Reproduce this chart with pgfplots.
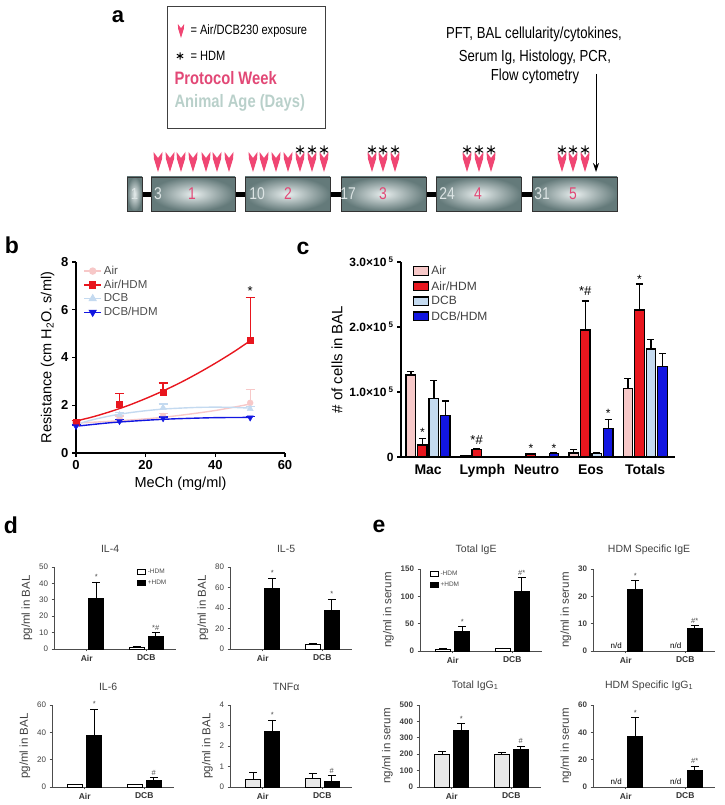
\documentclass[border=0pt]{standalone}
\usepackage{graphicx}
\usepackage{pgfplots}
\pgfplotsset{compat=1.18}
\usepackage{fontspec}
\setmainfont{Liberation Sans}
\usetikzlibrary{arrows.meta}
\definecolor{airpink}{RGB}{247,200,200}
\definecolor{hdmred}{RGB}{232,22,30}
\definecolor{dcbblue}{RGB}{196,218,240}
\definecolor{dcbhdm}{RGB}{18,22,225}
\definecolor{arrowpink}{RGB}{240,70,115}
\definecolor{weekpink}{RGB}{226,72,118}
\definecolor{agegray}{RGB}{185,208,202}
\definecolor{boxedge}{RGB}{100,122,122}
\definecolor{boxmid}{RGB}{232,238,238}
\definecolor{daygray}{RGB}{220,228,228}
\definecolor{ltgray}{RGB}{232,232,232}
\newcommand{\fs}[1]{\fontsize{#1}{#1}\selectfont}
\newcommand{\nar}[1]{\scalebox{0.82}[1]{#1}}
\newcommand{\bstar}[3]{\node[font=\fs{7.5}, text=black!70, anchor=south, inner sep=0.5pt, yshift=1.5pt] at (axis cs:#1,#2) {#3};}
\newcommand{\nd}[1]{\node[font=\fs{8}, anchor=south, inner sep=0.5pt, yshift=1.5pt] at (axis cs:#1,0) {n/d};}
\tikzset{parrow/.pic={\fill[arrowpink] (-4.5,0) -- (0,-6) -- (4.5,0) -- (4,-7) -- (0,-20) -- (-4,-7) -- cycle;},
  hstar/.pic={\draw[line width=1.0pt, black] (0,-4.5) -- (0,4.5) (-3.9,-2.25) -- (3.9,2.25) (-3.9,2.25) -- (3.9,-2.25);}}
\pgfplotsset{
  smallax/.style={anchor=south west, scale only axis, width=122pt, height=82pt,
    xmin=-0.55, xmax=1.5, ymin=0,
    axis x line*=bottom, axis y line*=left,
    axis line style={-, line width=0.7pt, black!70},
    xtick={0,1}, xticklabels={Air,DCB},
    xticklabel style={font=\bfseries\fs{8.5}, text=black!80},
    yticklabel style={font=\fs{8}, text=black!75},
    /pgf/number format/assume math mode=true,
    tick style={line width=0.6pt, black!70}, tick align=outside, major tick length=2.5pt,
    ylabel style={font=\fs{11.5}, text=black!75},
    title style={font=\fs{10.5}, text=black!75, at={(0.46,1)}, anchor=south, yshift=5pt},
    clip=false, scaled y ticks=false},
  errb/.style={error bars/y dir=plus, error bars/y explicit,
    error bars/error bar style={line width=0.8pt, black},
    error bars/error mark options={rotate=90, mark size=4pt, line width=0.8pt, black}},
  sw/.style={ybar, bar width=15pt, bar shift=0pt, fill=white, draw=black, line width=0.9pt, forget plot, errb},
  sb/.style={ybar, bar width=15pt, bar shift=0pt, fill=black, draw=black, line width=0.9pt, forget plot, errb},
  cerr/.style={error bars/y dir=plus, error bars/y explicit,
    error bars/error bar style={line width=1.3pt, black},
    error bars/error mark options={rotate=90, mark size=3.5pt, line width=1.3pt, black}},
  cbar/.style={ybar, bar width=9.5pt, bar shift=0pt, draw=black, line width=1.3pt, forget plot, cerr},
  berr/.style={error bars/y dir=plus, error bars/y explicit,
    error bars/error bar style={line width=1.3pt},
    error bars/error mark options={rotate=90, mark size=4.5pt, line width=1.3pt}},
}
\begin{document}
\begin{tikzpicture}[x=1pt,y=1pt]
% ---------------- panel a ----------------
\node[font=\bfseries\fs{22}] at (118,788) {a};
\draw[line width=0.9pt, black!75] (167,799) rectangle (325,677);
\pic[scale=0.7] at (181,781) {parrow};
\node[anchor=west, font=\fs{13.5}] at (187,774) {\nar{= Air/DCB230 exposure}};
\pic[scale=0.8] at (180,749) {hstar};
\node[anchor=west, font=\fs{13.5}] at (187,749) {\nar{= HDM}};
\node[anchor=west, font=\bfseries\fs{18}, text=weekpink] at (171,727) {\nar{Protocol Week}};
\node[anchor=west, font=\bfseries\fs{18}, text=agegray] at (171,702) {\nar{Animal Age (Days)}};
\node[font=\fs{16}] at (534,771) {\nar{PFT, BAL cellularity/cytokines,}};
\node[font=\fs{16}] at (535,748) {\nar{Serum Ig, Histology, PCR,}};
\node[font=\fs{16}] at (535,729) {\nar{Flow cytometry}};
\draw[line width=0.9pt, -{Stealth[length=9pt,width=6pt]}] (596,731) -- (596,633);
% connectors
\draw[line width=5pt] (140,610) -- (534,610);
% boxes
\foreach \xa/\xb in {127/142,151/235,245/330,341/426,436/521,532/617}{
  \shade[inner color=boxmid, outer color=boxedge] (\xa,594) rectangle (\xb,628);
  \draw[black!80, line width=0.6pt] (\xa,594) rectangle (\xb,628);
}
\node[font=\fs{16}, text=daygray] at (134.5,611) {\nar{1}};
\foreach \x/\d in {158/3,257/10,348/17,447/24,542/31}{
  \node[font=\fs{17}, text=daygray] at (\x,611) {\nar{\d}};
}
\foreach \x/\w in {192/1,288/2,383/3,478/4,573/5}{
  \node[font=\fs{17}, text=weekpink] at (\x,611) {\nar{\w}};
}
\foreach \x in {158,170,181,193,206,217,229,253,264,276,288,300,312,324,372,383,395,467,479,491,562,573,585}{
  \pic at (\x,653) {parrow};
}
\foreach \x in {300,312,324,372,383,395,467,479,491,562,573,585}{
  \pic at (\x,655) {hstar};
}
% ---------------- panel b ----------------
\node[font=\bfseries\fs{23}] at (12,560) {b};
\begin{axis}[at={(76pt,352pt)}, anchor=south west, scale only axis, width=209pt, height=191pt,
  xmin=0, xmax=60, ymin=0, ymax=8,
  axis lines=left, axis line style={-, line width=1.4pt},
  xtick={0,20,40,60}, ytick={0,2,4,6,8},
  tick style={line width=1.4pt, black}, tick align=outside, major tick length=4pt,
  /pgf/number format/assume math mode=true,
  ticklabel style={font=\bfseries\fs{13}},
  xlabel={MeCh (mg/ml)}, ylabel={Resistance (cm H\textsubscript{2}O. s/ml)},
  label style={font=\fs{14.5}},
  clip=false,
  legend style={at={(0.03,0.995)}, anchor=north west, draw=none, fill=none, font=\fs{11.5}, text=black!70, row sep=0pt, inner sep=1pt},
  legend cell align=left]
\addplot[smooth, airpink, line width=1.4pt, forget plot] coordinates {(0,1.25)(10,1.33)(20,1.43)(25,1.5)(30,1.58)(40,1.78)(50,2.05)};
\addplot[smooth, dcbblue, line width=1.4pt, forget plot] coordinates {(0,1.2)(5,1.4)(10,1.56)(15,1.68)(20,1.77)(25,1.84)(30,1.88)(35,1.91)(40,1.92)(45,1.91)(50,1.88)};
\addplot[only marks, airpink, mark=*, mark size=3pt, forget plot, berr] coordinates {(0,1.25)+-(0,0.05) (12.5,1.45)+-(0,0.1) (25,1.55)+-(0,0.1) (50,2.1)+-(0,0.55)};
\addplot[only marks, dcbblue, mark=triangle*, mark size=3.5pt, forget plot, berr] coordinates {(0,1.2)+-(0,0.05) (12.5,1.6)+-(0,0.1) (25,1.9)+-(0,0.15) (50,1.85)+-(0,0.1)};
\addplot[smooth, hdmred, line width=1.4pt, forget plot] coordinates {(0,1.34)(5,1.52)(10,1.74)(15,1.99)(20,2.28)(25,2.6)(30,2.95)(35,3.34)(40,3.76)(45,4.21)(50,4.7)};
\addplot[only marks, hdmred, mark=square*, mark size=3pt, forget plot, berr] coordinates {(0,1.3)+-(0,0.05) (12.5,2.05)+-(0,0.45) (25,2.55)+-(0,0.38) (50,4.72)+-(0,1.8)};
\addplot[smooth, dcbhdm, line width=1.4pt, forget plot] coordinates {(0,1.12)(10,1.27)(20,1.37)(25,1.41)(30,1.44)(40,1.48)(50,1.49)};
\addplot[only marks, dcbhdm, mark=triangle*, mark options={rotate=180}, mark size=3.5pt, forget plot, berr] coordinates {(0,1.12)+-(0,0.05) (12.5,1.33)+-(0,0.08) (25,1.45)+-(0,0.06) (50,1.48)+-(0,0.06)};
\addlegendimage{airpink, line width=1.4pt, mark=*, mark size=3pt}
\addlegendentry{Air}
\addlegendimage{hdmred, line width=1.4pt, mark=square*, mark size=3pt}
\addlegendentry{Air/HDM}
\addlegendimage{dcbblue, line width=1.4pt, mark=triangle*, mark size=3.5pt}
\addlegendentry{DCB}
\addlegendimage{dcbhdm, line width=1.4pt, mark=triangle*, mark options={rotate=180}, mark size=3.5pt}
\addlegendentry{DCB/HDM}
\node[font=\fs{13}, anchor=south, inner sep=0pt] at (axis cs:50,6.6) {*};
\end{axis}
% ---------------- panel c ----------------
\node[font=\bfseries\fs{23}] at (303,557) {c};
\begin{axis}[at={(401pt,348pt)}, anchor=south west, scale only axis, width=274pt, height=195pt,
  xmin=-0.5, xmax=4.55, ymin=0, ymax=300000,
  axis lines=left, axis line style={-, line width=1.4pt},
  xtick={0,1,2,3,4}, xticklabels={Mac,Lymph,Neutro,Eos,Totals},
  xtick style={draw=none},
  xticklabel style={font=\bfseries\fs{14}},
  ytick={0,100000,200000,300000},
  yticklabels={0,{1.0×10\,\textsuperscript{5}},{2.0×10\,\textsuperscript{5}},{3.0×10\,\textsuperscript{5}}},
  yticklabel style={font=\bfseries\fs{12}},
  ytick style={line width=1.4pt, black}, tick align=outside, major tick length=4pt,
  scaled y ticks=false,
  ylabel={\# of cells in BAL}, ylabel style={font=\fs{15}},
  clip=false,
  legend style={at={(0.04,0.995)}, anchor=north west, draw=none, fill=none, font=\fs{12}, text=black!75, row sep=1pt, inner sep=1pt},
  legend cell align=left,
  legend image code/.code={\draw[#1] (0pt,-4pt) rectangle (15pt,4.5pt);}]
\addplot[cbar, fill=airpink]
  coordinates {(-0.318,126000)+-(0,5000) (0.682,1500)+-(0,500) (1.682,500)+-(0,200) (2.682,6000)+-(0,6000) (3.682,105500)+-(0,15500)};
\addplot[cbar, fill=hdmred]
  coordinates {(-0.106,18500)+-(0,9500) (0.894,12000)+-(0,1500) (1.894,4500)+-(0,1000) (2.894,195500)+-(0,44500) (3.894,226000)+-(0,40000)};
\addplot[cbar, fill=dcbblue]
  coordinates {(0.106,90000)+-(0,28000) (1.106,800)+-(0,300) (2.106,800)+-(0,300) (3.106,5000)+-(0,1000) (4.106,166000)+-(0,15000)};
\addplot[cbar, fill=dcbhdm]
  coordinates {(0.318,64000)+-(0,22000) (1.318,800)+-(0,300) (2.318,5000)+-(0,1000) (3.318,44000)+-(0,14000) (4.318,139000)+-(0,20000)};
\addlegendimage{fill=airpink, draw=black, line width=1.3pt}
\addlegendentry{Air}
\addlegendimage{fill=hdmred, draw=black, line width=1.3pt}
\addlegendentry{Air/HDM}
\addlegendimage{fill=dcbblue, draw=black, line width=1.3pt}
\addlegendentry{DCB}
\addlegendimage{fill=dcbhdm, draw=black, line width=1.3pt}
\addlegendentry{DCB/HDM}
\node[font=\fs{12}, anchor=base, inner sep=0pt] at (axis cs:-0.106,31800) {*};
\node[font=\fs{13}, anchor=base, inner sep=0pt] at (axis cs:0.894,19500) {*\#};
\node[font=\fs{12}, anchor=base, inner sep=0pt] at (axis cs:1.894,7600) {*};
\node[font=\fs{12}, anchor=base, inner sep=0pt] at (axis cs:2.318,7600) {*};
\node[font=\fs{13}, anchor=base, inner sep=0pt] at (axis cs:2.894,249000) {*\#};
\node[font=\fs{12}, anchor=base, inner sep=0pt] at (axis cs:3.318,61500) {*};
\node[font=\fs{12}, anchor=base, inner sep=0pt] at (axis cs:3.894,266500) {*};
\end{axis}
% ---------------- panel d ----------------
\node[font=\bfseries\fs{23}] at (11,280) {d};
\begin{axis}[smallax, at={(54pt,156pt)}, ymax=50, ytick={0,10,...,50}, title={IL-4}, ylabel={pg/ml in BAL},
  legend style={at={(0.68,1.0)}, anchor=north west, draw=none, fill=none, font=\fs{6.5}, text=black!70, row sep=0.5pt, inner sep=0pt},
  legend cell align=left,
  legend image code/.code={\draw[#1] (0pt,-2.3pt) rectangle (8pt,2.5pt);}]
\addplot[sw] coordinates {(0.84,1.2)+-(0,0.3)};
\addplot[sb] coordinates {(0.16,30.8)+-(0,10.1) (1.16,7.9)+-(0,2.0)};
\addlegendimage{fill=white, draw=black, line width=0.6pt}
\addlegendentry{-HDM}
\addlegendimage{fill=black, draw=black, line width=0.6pt}
\addlegendentry{+HDM}
\bstar{0.16}{40.9}{*}
\bstar{1.16}{9.9}{*\#}
\end{axis}
\begin{axis}[smallax, at={(230pt,156pt)}, ymax=80, ytick={0,20,...,80}, title={IL-5}, ylabel={pg/ml in BAL}]
\addplot[sw] coordinates {(0.84,4.6)+-(0,0.8)};
\addplot[sb] coordinates {(0.16,59.4)+-(0,9.8) (1.16,37.2)+-(0,11.4)};
\bstar{0.16}{69.2}{*}
\bstar{1.16}{48.6}{*}
\end{axis}
\begin{axis}[smallax, at={(52pt,18pt)}, ymax=60, ytick={0,20,...,60}, title={IL-6}, ylabel={pg/ml in BAL}]
\addplot[sw] coordinates {(-0.16,1.7)+-(0,0.3) (0.84,1.7)+-(0,0.4)};
\addplot[sb] coordinates {(0.16,37.9)+-(0,19.1) (1.16,5.0)+-(0,1.7)};
\bstar{0.16}{57}{*}
\bstar{1.16}{6.7}{\#}
\end{axis}
\begin{axis}[smallax, at={(230pt,18pt)}, ymax=4, ytick={0,1,...,4}, title={TNFα}, ylabel={pg/ml in BAL}]
\addplot[sw, fill=ltgray] coordinates {(-0.16,0.37)+-(0,0.32) (0.84,0.41)+-(0,0.26)};
\addplot[sb] coordinates {(0.16,2.71)+-(0,0.56) (1.16,0.25)+-(0,0.31)};
\bstar{0.16}{3.27}{*}
\bstar{1.16}{0.56}{\#}
\end{axis}
% ---------------- panel e ----------------
\node[font=\bfseries\fs{23}] at (379,279) {e};
\begin{axis}[smallax, at={(420pt,154pt)}, ymax=150, ytick={0,50,...,150}, title={Total IgE}, ylabel={ng/ml in serum},
  yticklabel style={font=\bfseries\fs{8}},
  legend style={at={(0.08,1.0)}, anchor=north west, draw=none, fill=none, font=\fs{6.5}, text=black!70, row sep=0.5pt, inner sep=0pt},
  legend cell align=left,
  legend image code/.code={\draw[#1] (0pt,-2.3pt) rectangle (8pt,2.5pt);}]
\addplot[sw] coordinates {(-0.16,3.7)+-(0,0.8) (0.84,4.9)+-(0,0.6)};
\addplot[sb] coordinates {(0.16,36.1)+-(0,8) (1.16,109.6)+-(0,25.1)};
\addlegendimage{fill=white, draw=black, line width=0.6pt}
\addlegendentry{-HDM}
\addlegendimage{fill=black, draw=black, line width=0.6pt}
\addlegendentry{+HDM}
\bstar{0.16}{44.1}{*}
\bstar{1.16}{134.7}{\#*}
\end{axis}
\begin{axis}[smallax, at={(593pt,154pt)}, ymax=30, ytick={0,10,...,30}, title={HDM Specific IgE}, ylabel={ng/ml in serum},
  yticklabel style={font=\bfseries\fs{8}}]
\addplot[sb] coordinates {(0.16,22.6)+-(0,3.1) (1.16,8.4)+-(0,0.8)};
\nd{-0.16}
\nd{0.84}
\bstar{0.16}{25.7}{*}
\bstar{1.16}{9.2}{\#*}
\end{axis}
\begin{axis}[smallax, at={(419pt,18pt)}, ymax=500, ytick={0,100,...,500}, title={Total IgG\textsubscript{1}}, ylabel={ng/ml in serum},
  yticklabel style={font=\bfseries\fs{8}}]
\addplot[sw, fill=ltgray] coordinates {(-0.16,200)+-(0,17) (0.84,198)+-(0,15)};
\addplot[sb] coordinates {(0.16,343)+-(0,43) (1.16,229)+-(0,21)};
\bstar{0.16}{386}{*}
\bstar{1.16}{250}{\#}
\end{axis}
\begin{axis}[smallax, at={(593pt,18pt)}, ymax=60, ytick={0,20,...,60}, title={HDM Specific IgG\textsubscript{1}}, ylabel={ng/ml in serum},
  yticklabel style={font=\bfseries\fs{8}}]
\addplot[sb] coordinates {(0.16,37.2)+-(0,13.6) (1.16,12.1)+-(0,3.3)};
\nd{-0.16}
\nd{0.84}
\bstar{0.16}{50.8}{*}
\bstar{1.16}{15.4}{\#*}
\end{axis}
\pgfresetboundingbox
\path[use as bounding box] (0,0) rectangle (724,805);
\end{tikzpicture}
\end{document}
